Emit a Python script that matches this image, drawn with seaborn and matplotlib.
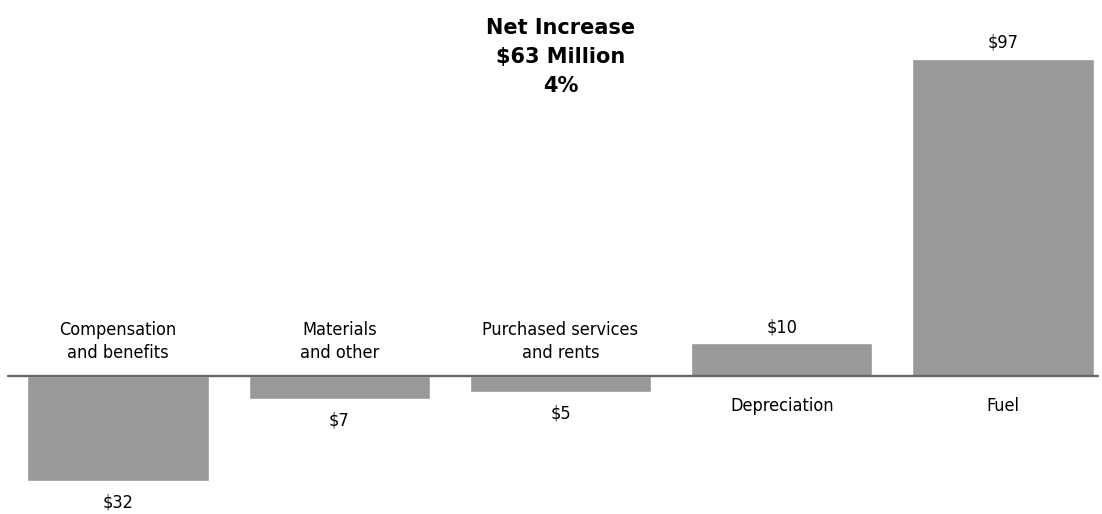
import pandas as pd
import numpy as np
import matplotlib.pyplot as plt
import seaborn as sns

# Expense changes (millions of dollars)
categories = ["Compensation\nand benefits", "Materials\nand other",
              "Purchased services\nand rents", "Depreciation", "Fuel"]
values = [-32, -7, -5, 10, 97]
value_labels = ["$32", "$7", "$5", "$10", "$97"]
title_lines = ["Net Increase", "$63 Million", "4%"]

df = pd.DataFrame({"category": categories, "value": values})

sns.set_theme(style="white")
plt.rcParams['font.family'] = ['DejaVu Sans']
plt.rcParams['font.stretch'] = 'condensed'

fig = plt.figure(figsize=(11.02, 5.14), dpi=100)
ax = fig.add_axes([0, 0, 1, 1])

sns.barplot(data=df, x="category", y="value", color="#999999",
            saturation=1, width=0.82, ax=ax)

# pixel-based limits so the layout lines up with the reference
spacing = 221.25
ax.set_xlim(-118 / spacing, (1102 - 118) / spacing)
ppu = 3.27
ax.set_ylim(-138 / ppu, (514 - 138) / ppu)

# baseline
ax.plot([(8 - 118) / spacing, (1098 - 118) / spacing], [0, 0],
        color="#666666", lw=1.7, zorder=3)

lab_kw = dict(ha="center", fontsize=13, color="black",
              fontstretch="condensed")
for i, (v, lab, cat) in enumerate(zip(values, value_labels, categories)):
    if v < 0:
        ax.annotate(lab, (i, v), xytext=(0, -9), textcoords="offset points",
                    va="top", **lab_kw)
        ax.annotate(cat, (i, 0), xytext=(0, 10), textcoords="offset points",
                    va="bottom", linespacing=1.35, **lab_kw)
    else:
        ax.annotate(lab, (i, v), xytext=(0, 5), textcoords="offset points",
                    va="bottom", **lab_kw)
        ax.annotate(cat, (i, 0), xytext=(0, -15), textcoords="offset points",
                    va="top", **lab_kw)

ax.text(2, (514 - 57) / ppu - 138 / ppu, "\n".join(title_lines),
        ha="center", va="center", fontsize=15, fontweight="bold",
        color="black", fontstretch="normal", linespacing=1.55)

ax.axis("off")
fig.savefig("out.png", dpi=100)
